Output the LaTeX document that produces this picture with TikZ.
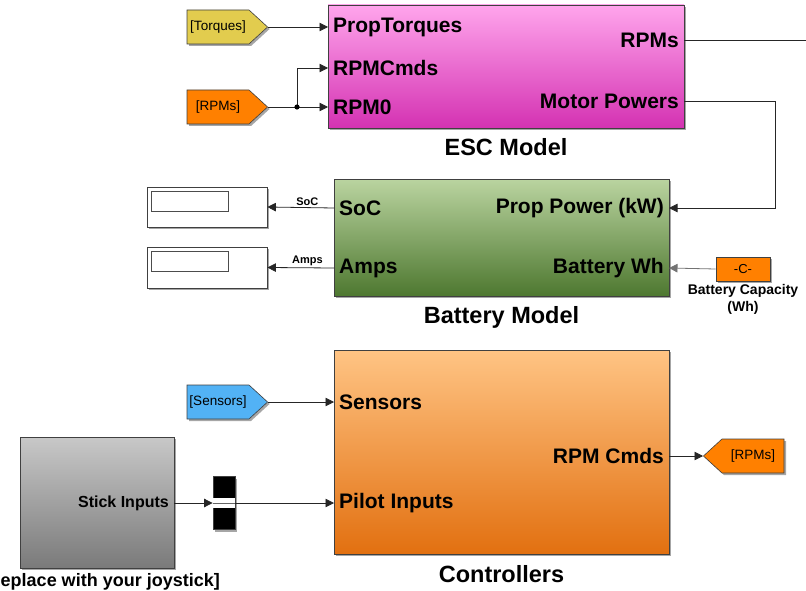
\documentclass[tikz,border=0pt]{standalone}
\usepackage{fontspec}
\setmainfont{Liberation Sans}
\usepackage{tikz}
\usetikzlibrary{arrows.meta,positioning,shadows,shapes.symbols,calc}
\definecolor{tagyellow}{RGB}{226,204,78}
\definecolor{tagorange}{RGB}{255,128,0}
\definecolor{tagblue}{RGB}{82,178,245}
\definecolor{escTop}{RGB}{255,165,236}
\definecolor{escBot}{RGB}{212,50,178}
\definecolor{batTop}{RGB}{186,212,160}
\definecolor{batBot}{RGB}{78,120,48}
\definecolor{ctlTop}{RGB}{255,196,132}
\definecolor{ctlBot}{RGB}{226,112,16}
\definecolor{stkTop}{RGB}{200,200,200}
\definecolor{stkBot}{RGB}{122,122,122}

\begin{document}
\begin{tikzpicture}[x=1pt, y=-1pt, shd/.style={drop shadow={shadow xshift=2pt, shadow yshift=-2pt, opacity=0.35, fill=black}}, block/.style={draw=black!75, line width=0.8pt, inner sep=0pt, shd}, tag/.style={signal, signal to=#1, signal pointer angle=85, draw=black!75, line width=0.6pt, inner xsep=1pt, text width=60pt, align=center, minimum height=34pt, font=\fontsize{13.5}{16}\selectfont, shd}, portin/.style={anchor=west, inner xsep=5pt, inner ysep=0pt, font=\bfseries\fontsize{21}{24}\selectfont}, portout/.style={portin, anchor=east}, caption/.style={inner sep=0pt, font=\bfseries\fontsize{23.5}{27}\selectfont}, sml/.style={inner sep=0pt, font=\bfseries\fontsize{11}{13}\selectfont}, wire/.style={draw=black!85, line width=0.8pt}, arr/.style={wire, -{Triangle[length=8.5pt, width=8.5pt]}}]
\useasboundingbox (0,0) rectangle (806,591);
\node[block, top color=escTop, bottom color=escBot, minimum width=356pt, minimum height=123pt] (esc) at (506,66.5) {};
\node[caption, below=10pt of esc] (escCap) {ESC Model};
\node[block, top color=batTop, bottom color=batBot, minimum width=335pt, minimum height=117pt] (bat) at (501.5,237.5) {};
\node[caption, below=10pt of bat] (batCap) {Battery Model};
\node[block, top color=ctlTop, bottom color=ctlBot, minimum width=335pt, minimum height=204pt] (ctl) at (501.5,452) {};
\node[caption, below=11pt of ctl] (ctlCap) {Controllers};
\node[block, top color=stkTop, bottom color=stkBot, minimum width=154pt, minimum height=131pt] (stick) at (97,502.5) {};
\node[anchor=east, inner sep=0pt, font=\bfseries\fontsize{18}{21}\selectfont] (stickCap) at (220,582) {[Replace with your joystick]};
\node[portin] (pTorq) at (328,27) {PropTorques};
\node[portin] (pRPMCmd) at (328,68) {RPMCmds};
\node[portin] (pRPM0) at (328,107) {RPM0};
\node[portout] (pRPMs) at (684,40) {RPMs};
\node[portout] (pMotor) at (684,101) {Motor Powers};
\node[portin] (pSoC) at (334,208) {SoC};
\node[portin] (pAmps) at (334,268) {Amps};
\node[portout] (pProp) at (669,208) {Prop Power (kW)};
\node[portout] (pBatWh) at (669,268) {Battery Wh};
\node[portin] (pSens) at (334,402) {Sensors};
\node[portin] (pPilot) at (334,503) {Pilot Inputs};
\node[portout] (pRPMCmd2) at (669,456) {RPM Cmds};
\node[portout, font=\bfseries\fontsize{16}{19}\selectfont] (pStick) at (174,503) {Stick Inputs};
\node[tag=east, fill=tagyellow, anchor=east] (tTorq) at (268,27) {[Torques]};
\node[tag=east, fill=tagorange, anchor=east] (tRPM) at (268,107) {[RPMs]};
\node[tag=east, fill=tagblue, anchor=east] (tSens) at (268,402) {[Sensors]};
\node[tag=west, fill=tagorange, anchor=west] (tRPMout) at (703,456) {[RPMs]};
\node[block, fill=white, minimum width=120pt, minimum height=40pt] (dispSoC) at (207,207) {};
\node[draw=black!70, line width=0.6pt, inner sep=0pt, minimum width=77pt, minimum height=20pt, anchor=north west] (dispSoCval) at ($(dispSoC.north west)+(4,4)$) {};
\node[block, fill=white, minimum width=120pt, minimum height=41pt] (dispAmps) at (207,267.5) {};
\node[draw=black!70, line width=0.6pt, inner sep=0pt, minimum width=77pt, minimum height=20pt, anchor=north west] (dispAmpsval) at ($(dispAmps.north west)+(4,4)$) {};
\node[block, fill=tagorange, minimum width=54pt, minimum height=24pt, font=\fontsize{13}{15}\selectfont] (capC) at (743,269) {-C-};
\node[below=3pt of capC, align=center, inner sep=0pt, font=\bfseries\fontsize{14}{17}\selectfont] (capLbl) {Battery Capacity\\(Wh)};
\node[block, fill=black, minimum width=22pt, minimum height=53pt] (mux) at (224,503) {};
\fill[white] ($(mux.west)+(0.8,-4.8)$) rectangle ($(mux.east)+(-0.8,4.8)$);
\draw[black!60, line width=0.8pt] (mux.west) -- (mux.east);
\coordinate (jn) at (297,107);
\coordinate (rpmOut) at (806,40);
\draw[arr] (tTorq.east) -- (pTorq.west);
\draw[arr] (tRPM.east) -- (pRPM0.west);
\draw[arr] (jn) |- (pRPMCmd.west);
\fill[black] (jn) circle (2.6pt);
\draw[wire] (pRPMs.east) -- (rpmOut);
\draw[arr] (pMotor.east) -- ++(91,0) |- (pProp.east);
\draw[arr] (pSoC.west) -- node[pos=0.4, above=2pt, sml] {SoC} (dispSoC.east);
\draw[arr] (pAmps.west) -- node[pos=0.4, above=2pt, sml] {Amps} (dispAmps.east);
\draw[arr, draw=black!55] (capC.west) -- (pBatWh.east);
\draw[arr] (tSens.east) -- (pSens.west);
\draw[arr] (pStick.east) -- (mux.west);
\draw[arr] (mux.east) -- (pPilot.west);
\draw[arr] (pRPMCmd2.east) -- (tRPMout.west);
\end{tikzpicture}
\end{document}
